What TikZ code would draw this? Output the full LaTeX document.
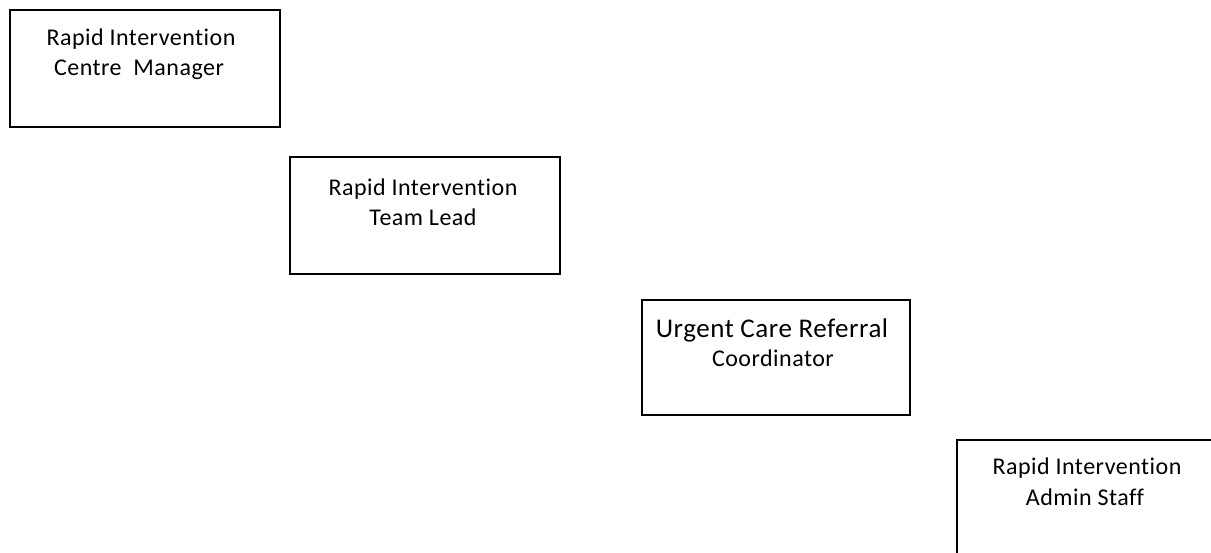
\documentclass[tikz,border=0pt]{standalone}
\usepackage{fontspec}
\setmainfont{Carlito}[Ligatures=NoCommon,LetterSpace=2]
\begin{document}
\begin{tikzpicture}[x=1pt,y=1pt,
  rolebox/.style={draw=black,line width=2.8pt,rectangle},
  roletext/.style={anchor=base,inner sep=0pt,font=\fontsize{24}{30}\selectfont},
  bigtext/.style={anchor=base,inner sep=0pt,font=\fontsize{27}{32}\selectfont}]
\useasboundingbox (0,0) rectangle (1211,-553);
\clip (0,0) rectangle (1211,-553);
% boxes
\draw[rolebox] (10,-10) rectangle (280,-127) coordinate (b1);
\draw[rolebox] (290,-157) rectangle (560,-274) coordinate (b2);
\draw[rolebox] (642,-300) rectangle (910,-415) coordinate (b3);
\draw[rolebox] (957,-440) rectangle (1230,-560) coordinate (b4);
% texts
\node[roletext] (t1a) at (141,-46) {Rapid Intervention};
\node[roletext] (t1b) at (139,-76) {Centre\ \ Manager};
\node[roletext] (t2a) at (423,-196) {Rapid Intervention};
\node[roletext] (t2b) at (423,-226) {Team Lead};
\node[bigtext] (t3a) at (772,-338) {Urgent Care Referral};
\node[roletext] (t3b) at (773,-367) {Coordinator};
\node[roletext] (t4a) at (1087,-475) {Rapid Intervention};
\node[roletext] (t4b) at (1085,-505) {Admin Staff};
\end{tikzpicture}
\end{document}
